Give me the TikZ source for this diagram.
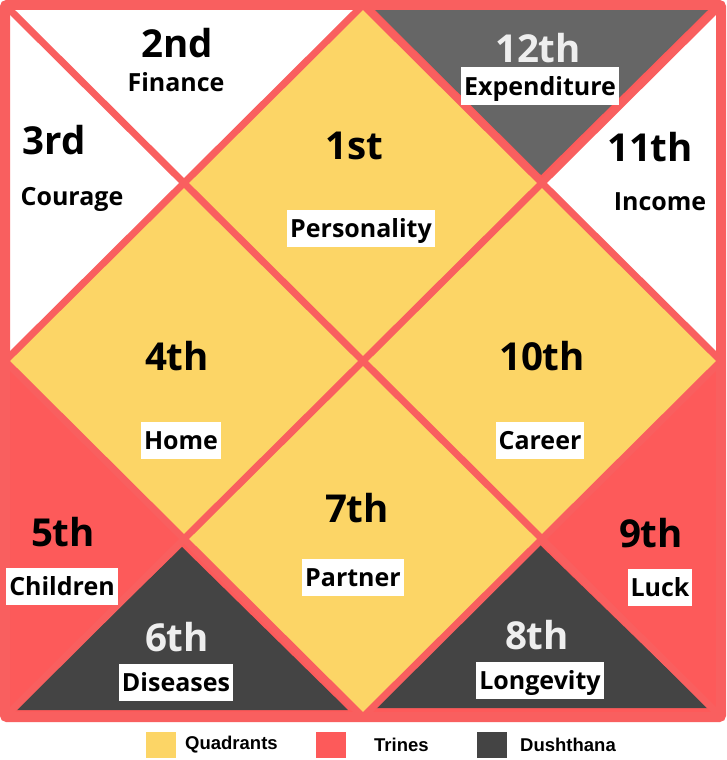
\documentclass[tikz,border=0pt]{standalone}
\usepackage{fontspec}
\setmainfont{Open Sans}
\newfontfamily\legendfont{Liberation Sans}
\definecolor{quad}{HTML}{FCD566}
\definecolor{trine}{HTML}{FD5A5A}
\definecolor{linered}{HTML}{F95F5F}
\definecolor{dush}{HTML}{444444}
\definecolor{dushlight}{HTML}{666666}
\definecolor{numlight}{HTML}{EEEEEE}
\begin{document}
\begin{tikzpicture}[x=1pt,y=-1pt,
  num/.style={font=\fontsize{38.5}{38.5}\bfseries\selectfont, inner sep=0pt},
  numl/.style={num, text=numlight},
  lab/.style={font=\fontsize{25}{25}\bfseries\selectfont, fill=white, inner xsep=3pt, inner ysep=2pt, text height=26pt, text depth=7pt},
  plain/.style={lab, fill=none},
  redline/.style={draw=linered, line width=7pt},
  legsq/.style={minimum width=30pt, minimum height=26pt, inner sep=0pt},
  legtxt/.style={font=\legendfont\fontsize{18.5}{18.5}\bfseries\selectfont, anchor=west, inner sep=0pt}
]
\useasboundingbox (0,0) rectangle (726,760);
\fill[white] (0,0) rectangle (726,760);
% key points
\coordinate (TL) at (5,5); \coordinate (TR) at (721,5);
\coordinate (BR) at (721,717); \coordinate (BL) at (5,717);
\coordinate (C) at (363,361);
\coordinate (T) at (363,5); \coordinate (R) at (721,361);
\coordinate (B) at (363,717); \coordinate (L) at (5,361);
\coordinate (q1) at (184,183); \coordinate (q2) at (542,183);
\coordinate (q3) at (542,539); \coordinate (q4) at (184,539);
% quadrants
\fill[quad] (T) -- (R) -- (B) -- (L) -- cycle;
% trines and dushthana backgrounds
\fill[trine] (L) -- (q4) -- (B) -- (BL) -- cycle;
\fill[trine] (R) -- (q3) -- (B) -- (BR) -- cycle;
\fill[trine] (T) -- (TR) -- (q2) -- cycle;
% dushthana triangles (inset)
\fill[dushlight] (375,10) -- (708,10) -- (541,175) -- cycle;
\fill[dush] (15,710) -- (348,710) -- (182,547) -- cycle;
\fill[dush] (375,708) -- (708,708) -- (540,545) -- cycle;
% lines
\draw[redline] (TL) -- (BR);
\draw[redline] (TR) -- (BL);
\draw[redline] (T) -- (R) -- (B) -- (L) -- cycle;
\draw[draw=linered, line width=10pt, rounded corners=2pt] (TL) rectangle (BR);
% house numbers
\node[num]  (n1)  at (354,146) {1st};
\node[num]  (n2)  at (177,43)  {2nd};
\node[num]  (n3)  at (54,140)  {3rd};
\node[num]  (n4)  at (177,356) {4th};
\node[num]  (n5)  at (63,532)  {5th};
\node[numl] (n6)  at (177,637) {6th};
\node[num]  (n7)  at (357,508) {7th};
\node[numl] (n8)  at (537,635) {8th};
\node[num]  (n9)  at (651,533) {9th};
\node[num]  (n10) at (542,356) {10th};
\node[num]  (n11) at (650,147) {11th};
\node[numl] (n12) at (538,48)  {12th};
% house labels
\node[lab]   (l1)  at (361,228) {Personality};
\node[plain] (l2)  at (176,82)  {Finance};
\node[plain] (l3)  at (72,196)  {Courage};
\node[lab]   (l4)  at (181,440) {Home};
\node[lab]   (l5)  at (62,586)  {Children};
\node[lab]   (l6)  at (176,682) {Diseases};
\node[lab]   (l7)  at (353,577) {Partner};
\node[lab]   (l8)  at (540,680) {Longevity};
\node[lab]   (l9)  at (660,587) {Luck};
\node[lab]   (l10) at (540,440) {Career};
\node[plain] (l11) at (660,201) {Income};
\node[lab]   (l12) at (540,86)  {Expenditure};
% legend
\node[legsq, fill=quad]  (sq1) at (161,745) {};
\node[legtxt] (t1) at (185,745) {Quadrants};
\node[legsq, fill=trine] (sq2) at (331,745) {};
\node[legtxt] (t2) at (374,745) {Trines};
\node[legsq, fill=dush]  (sq3) at (491.5,745) {};
\node[legtxt] (t3) at (520,745) {Dushthana};
\end{tikzpicture}
\end{document}
